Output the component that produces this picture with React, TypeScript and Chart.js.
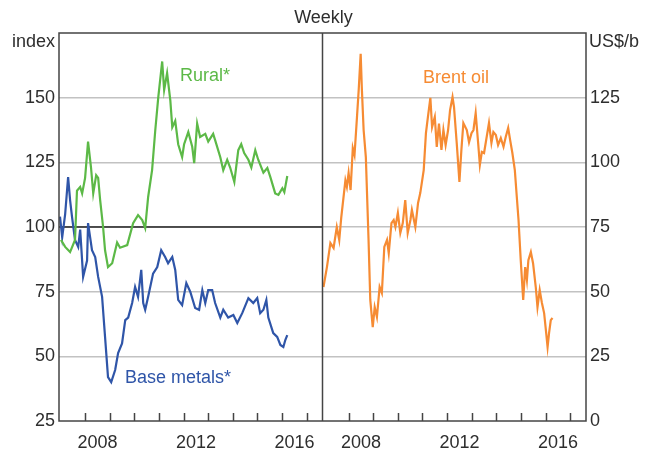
import React, { useEffect, useRef } from "react";
import { Chart, registerables } from "chart.js";

Chart.register(...registerables);

// ---- Data (decimal years, values) ----
const ruralT = [2007.02, 2007.19, 2007.39, 2007.59, 2007.67, 2007.8, 2007.88, 2008.0, 2008.12, 2008.24, 2008.33, 2008.45, 2008.53, 2008.61, 2008.73, 2008.81, 2008.93, 2009.1, 2009.3, 2009.42, 2009.71, 2009.95, 2010.15, 2010.32, 2010.44, 2010.56, 2010.72, 2010.85, 2010.97, 2011.13, 2011.21, 2011.33, 2011.46, 2011.54, 2011.66, 2011.78, 2011.94, 2012.02, 2012.19, 2012.35, 2012.43, 2012.55, 2012.67, 2012.88, 2013.0, 2013.2, 2013.28, 2013.49, 2013.61, 2013.77, 2013.89, 2014.06, 2014.22, 2014.34, 2014.46, 2014.63, 2014.75, 2014.91, 2015.03, 2015.24, 2015.4, 2015.52, 2015.72, 2015.85, 2016.01, 2016.09, 2016.21];
const ruralV = [95, 92.3, 90.3, 95, 114, 115.5, 113, 119, 133, 123, 113, 120, 119, 110.5, 100, 91, 84.5, 86, 94, 92, 93, 101.5, 104.6, 102.7, 99.6, 111.6, 122, 137.5, 150, 164, 153, 159.5, 149, 138.6, 141, 132, 127, 132, 136.7, 131, 124.7, 140, 134.8, 136, 133, 136, 133.6, 127, 122, 126, 123, 117.4, 129.7, 132, 128.6, 126, 123, 129.7, 126, 121, 122.8, 119.4, 113, 112.4, 115, 113.5, 119.7];

const metalsT = [2006.98, 2007.07, 2007.19, 2007.31, 2007.39, 2007.47, 2007.59, 2007.72, 2007.8, 2007.92, 2008.08, 2008.12, 2008.28, 2008.41, 2008.53, 2008.69, 2008.81, 2008.93, 2009.06, 2009.22, 2009.34, 2009.5, 2009.63, 2009.75, 2009.91, 2010.03, 2010.15, 2010.28, 2010.36, 2010.44, 2010.56, 2010.76, 2010.93, 2011.09, 2011.25, 2011.37, 2011.54, 2011.66, 2011.78, 2011.94, 2012.11, 2012.27, 2012.47, 2012.63, 2012.76, 2012.88, 2013.0, 2013.16, 2013.28, 2013.49, 2013.61, 2013.81, 2014.02, 2014.18, 2014.38, 2014.63, 2014.83, 2014.99, 2015.11, 2015.24, 2015.36, 2015.44, 2015.64, 2015.8, 2015.93, 2016.05, 2016.13, 2016.21];
const metalsV = [104, 96, 105, 119.3, 110.4, 103.8, 95, 92.3, 99, 80.7, 87, 101.5, 91, 88.4, 80.7, 73, 57.5, 42, 40, 44.7, 51.3, 55, 64, 65, 70.6, 76.8, 73, 83.4, 70.6, 68, 73, 82, 84.5, 91, 88.4, 86, 88.4, 83.4, 71.8, 69.8, 78.3, 75, 68.7, 68, 75.6, 70.6, 75.6, 75.6, 70.6, 65, 68, 65, 66, 62.9, 66.7, 72.5, 70.6, 72.5, 66.7, 68, 71.8, 65, 59, 57.5, 54.4, 53.6, 56.3, 58.2];

const oilT = [2006.98, 2007.12, 2007.26, 2007.39, 2007.52, 2007.62, 2007.7, 2007.87, 2007.93, 2008.0, 2008.08, 2008.17, 2008.24, 2008.34, 2008.41, 2008.49, 2008.54, 2008.61, 2008.7, 2008.81, 2008.88, 2008.98, 2009.06, 2009.15, 2009.26, 2009.35, 2009.45, 2009.56, 2009.63, 2009.74, 2009.83, 2009.9, 2010.0, 2010.1, 2010.2, 2010.3, 2010.4, 2010.51, 2010.57, 2010.71, 2010.82, 2010.91, 2011.05, 2011.14, 2011.22, 2011.32, 2011.39, 2011.5, 2011.58, 2011.67, 2011.77, 2011.85, 2011.94, 2012.04, 2012.12, 2012.22, 2012.28, 2012.39, 2012.5, 2012.58, 2012.66, 2012.8, 2012.89, 2012.99, 2013.07, 2013.16, 2013.26, 2013.33, 2013.41, 2013.5, 2013.6, 2013.7, 2013.8, 2013.88, 2013.98, 2014.07, 2014.18, 2014.29, 2014.38, 2014.48, 2014.56, 2014.65, 2014.75, 2014.83, 2014.9, 2014.99, 2015.09, 2015.17, 2015.24, 2015.3, 2015.4, 2015.49, 2015.6, 2015.67, 2015.76, 2015.85, 2015.94, 2016.01, 2016.08, 2016.14, 2016.21, 2016.28];
const oilV = [51.8, 59.5, 68.8, 66.9, 75, 70, 78.5, 93, 90.5, 95.9, 89.3, 105.5, 102.8, 117.5, 128, 142, 128, 112.5, 102, 70, 46.8, 36.3, 44, 40.2, 51.8, 49.5, 67.3, 70, 64.9, 76.5, 77.7, 75, 80.4, 72.7, 76.5, 85.4, 72.7, 77.7, 81.6, 75, 84.3, 88.1, 97, 111.3, 117.5, 124.9, 113.6, 117.5, 106, 115, 104.8, 112.5, 106.7, 112.5, 120.2, 125.2, 121.4, 107.5, 92.4, 104.8, 115.2, 112.5, 107.8, 111.3, 112.5, 119, 107.5, 99, 104, 103.6, 109.4, 115.2, 107.5, 111.7, 110.6, 106.7, 109.4, 106, 109.8, 113.3, 108.6, 103.6, 97, 86.6, 77.7, 62.2, 46.8, 59.5, 54.5, 62.2, 65.3, 61, 51.8, 44, 50.6, 45.6, 41.7, 35.2, 28.6, 34, 39, 39.8];

const labelYears = [2008, 2012, 2016];
const tickYears = [2008, 2009, 2010, 2011, 2012, 2013, 2014, 2015, 2016, 2017];
const leftTicks = [25, 50, 75, 100, 125, 150];
const rightTicks = [0, 25, 50, 75, 100, 125];

// ---- Layout constants ----
const X_MIN = 2006.94;
const PANEL = 10.7; // years per panel
const FONT = '"Liberation Sans", Arial, sans-serif';
const TEXT = "#2e2e2e";
const GREEN = "#5cb947";
const BLUE = "#2f55a8";
const ORANGE = "#f68b33";

const pts = (t: number[], v: number[], off: number) => t.map((x, i) => ({ x: x + off, y: v[i] }));

const framePlugin = {
  id: "frame",
  beforeDatasetsDraw(chart: any) {
    const { ctx, chartArea: a, scales } = chart;
    const xs = scales.x;
    const ys = scales.y;
    const mid = xs.getPixelForValue(X_MIN + PANEL);
    ctx.save();
    ctx.strokeStyle = "#222";
    ctx.lineWidth = 1.5;
    const y100 = ys.getPixelForValue(100);
    ctx.beginPath();
    ctx.moveTo(a.left, y100);
    ctx.lineTo(mid, y100);
    ctx.stroke();
    ctx.restore();
  },
  afterDatasetsDraw(chart: any) {
    const { ctx, chartArea: a, scales } = chart;
    const xs = scales.x;
    const mid = xs.getPixelForValue(X_MIN + PANEL);
    ctx.save();
    ctx.strokeStyle = "#444";
    ctx.lineWidth = 1.5;
    ctx.strokeRect(a.left, a.top, a.right - a.left, a.bottom - a.top);
    ctx.beginPath();
    ctx.moveTo(mid, a.top);
    ctx.lineTo(mid, a.bottom);
    ctx.stroke();
    // inward tick marks
    ctx.beginPath();
    [0, PANEL].forEach((off) => {
      tickYears.forEach((yr) => {
        const px = Math.round(xs.getPixelForValue(yr + off)) + 0.5;
        ctx.moveTo(px, a.bottom);
        ctx.lineTo(px, a.bottom - 8);
      });
    });
    ctx.stroke();
    ctx.restore();
  },
  afterDraw(chart: any) {
    const { ctx, chartArea: a, scales } = chart;
    const mid = scales.x.getPixelForValue(X_MIN + PANEL);
    ctx.save();
    ctx.font = `18px ${FONT}`;
    ctx.textBaseline = "middle";
    ctx.fillStyle = TEXT;
    ctx.textAlign = "center";
    ctx.fillText("Weekly", mid + 1, 18);
    ctx.textAlign = "right";
    ctx.fillText("index", a.left - 4, 42);
    ctx.textAlign = "left";
    ctx.fillText("US$/b", a.right + 3, 42);
    ctx.fillStyle = GREEN;
    ctx.fillText("Rural*", 180, 76);
    ctx.fillStyle = BLUE;
    ctx.fillText("Base metals*", 125, 378);
    ctx.fillStyle = ORANGE;
    ctx.fillText("Brent oil", 423, 78);
    ctx.restore();
  },
};

export default function App() {
  const ref = useRef<HTMLCanvasElement | null>(null);
  useEffect(() => {
    if (!ref.current) return;
    const chart = new Chart(ref.current, {
      type: "line",
      data: {
        datasets: [
          { label: "Rural*", data: pts(ruralT, ruralV, 0), borderColor: GREEN, yAxisID: "y" },
          { label: "Base metals*", data: pts(metalsT, metalsV, 0), borderColor: BLUE, yAxisID: "y" },
          { label: "Brent oil", data: pts(oilT, oilV, PANEL), borderColor: ORANGE, yAxisID: "y2" },
        ],
      },
      options: {
        responsive: false,
        animation: false,
        parsing: true,
        elements: { point: { radius: 0 }, line: { borderWidth: 2.2, tension: 0 } },
        layout: { padding: { top: 33, left: 0, right: 0, bottom: 0 } },
        plugins: { legend: { display: false }, tooltip: { enabled: false }, title: { display: false } },
        scales: {
          x: {
            type: "linear",
            min: X_MIN,
            max: X_MIN + 2 * PANEL,
            grid: { display: false },
            border: { display: false },
            afterBuildTicks: (s: any) => {
              s.ticks = [0, PANEL].flatMap((off) => labelYears.map((yr) => ({ value: yr + 0.5 + off })));
            },
            afterFit: (s: any) => {
              s.height = 29;
            },
            ticks: {
              autoSkip: false,
              maxRotation: 0,
              padding: 3,
              color: TEXT,
              font: { family: FONT, size: 18 },
              callback: (v: any) => {
                const n = Number(v);
                return String(Math.floor(n >= X_MIN + PANEL ? n - PANEL + 1e-6 : n + 1e-6));
              },
            },
          },
          y: {
            position: "left",
            min: 25,
            max: 175,
            afterBuildTicks: (s: any) => {
              s.ticks = leftTicks.map((v) => ({ value: v }));
            },
            afterFit: (s: any) => {
              s.width = 59;
            },
            border: { display: false },
            grid: {
              drawTicks: false,
              lineWidth: 1.5,
              color: (c: any) => (c.tick && c.tick.value === 25 ? "rgba(0,0,0,0)" : "#c2c2c2"),
            },
            ticks: { padding: 4, color: TEXT, font: { family: FONT, size: 18 } },
          },
          y2: {
            position: "right",
            min: 0,
            max: 150,
            afterBuildTicks: (s: any) => {
              s.ticks = rightTicks.map((v) => ({ value: v }));
            },
            afterFit: (s: any) => {
              s.width = 65;
            },
            border: { display: false },
            grid: { drawOnChartArea: false, drawTicks: false },
            ticks: { padding: 4, color: TEXT, font: { family: FONT, size: 18 } },
          },
        },
      },
      plugins: [framePlugin],
    } as any);
    return () => chart.destroy();
  }, []);
  return (
    <div style={{ position: "fixed", left: 0, top: 0, width: 651, height: 450, background: "#fff" }}>
      <canvas ref={ref} width={651} height={450} style={{ display: "block" }} />
    </div>
  );
}
